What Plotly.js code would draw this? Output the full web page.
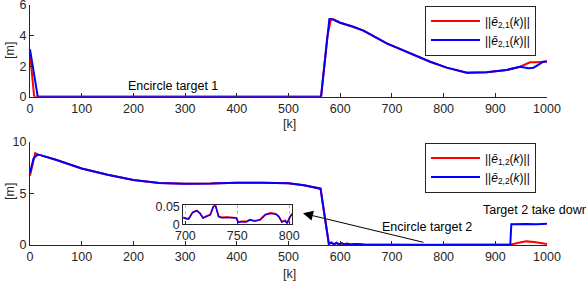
<!DOCTYPE html>
<html><head><meta charset="utf-8">
<script src="https://cdn.plot.ly/plotly-3.0.1.min.js"></script>
<style>html,body{margin:0;padding:0;background:#fff;}#plot{width:586px;height:282px;}</style>
</head><body><div id="plot"></div>
<script>
// ---- Top panel: ||e_{2,1}(k)|| (both legend entries labelled the same in the original)
const kTopRed  = [0, 8, 560, 563, 575, 582, 588, 595, 600, 625, 645, 690, 735, 774, 806, 845, 883, 922, 948, 958, 967, 980, 993, 1000];
const topRed   = [2.84, 0, 0, 0, 3.9, 5.08, 5.05, 4.9, 4.84, 4.58, 4.32, 3.49, 2.84, 2.29, 1.9, 1.57, 1.6, 1.75, 1.96, 2.12, 2.25, 2.25, 2.29, 2.3];
const kTopBlue = [0, 15, 560, 563, 579, 586, 592, 600, 625, 645, 690, 735, 774, 806, 845, 883, 922, 948, 956, 964, 974, 985, 993, 1000];
const topBlue  = [3.1, 0, 0, 0, 5.08, 5.06, 4.95, 4.84, 4.58, 4.32, 3.49, 2.84, 2.29, 1.9, 1.57, 1.6, 1.75, 1.96, 1.92, 1.86, 1.9, 2.12, 2.29, 2.3];

// ---- Bottom panel: ||e_{1,2}(k)|| (red) and ||e_{2,2}(k)|| (blue)
const kMid  = [20, 50, 100, 150, 200, 250, 300, 350, 400, 450, 500, 530, 562, 578, 583, 588, 593, 598, 603, 608, 613, 620, 630, 645, 660, 680,
               698, 703, 707, 711, 714, 717, 720, 724, 727, 729, 732, 735, 740, 746, 749, 751, 754, 759, 762, 767, 772, 777, 782, 787, 790, 793, 796, 798, 801, 803,
               820, 850, 880, 910, 929];
const vMidBlue = [8.7, 8.25, 7.4, 6.8, 6.3, 6.0, 5.93, 5.95, 6.03, 6.03, 5.97, 5.78, 5.45, 0.1, 0.25, 0.06, 0.22, 0.05, 0.18, 0.06, 0.15, 0.05, 0.1, 0.04, 0.06, 0.03,
               0.017, 0.012, 0.030, 0.035, 0.028, 0.015, 0.019, 0.024, 0.046, 0.049, 0.019, 0.016, 0.017, 0.015, 0.015, 0.003, 0.005, 0.005, 0.010, 0.007, 0.010, 0.024, 0.028, 0.026, 0.019, 0.004, 0.008, 0.001, 0.019, 0.026,
               0.03, 0.02, 0.04, 0.02, 0.02];
const vMidRed  = [8.7, 8.25, 7.4, 6.8, 6.3, 6.0, 5.93, 5.95, 6.03, 6.03, 5.97, 5.78, 5.45, 0.15, 0.2, 0.08, 0.18, 0.06, 0.15, 0.07, 0.12, 0.06, 0.09, 0.05, 0.05, 0.03,
               0.018, 0.013, 0.031, 0.036, 0.029, 0.016, 0.020, 0.025, 0.047, 0.050, 0.020, 0.017, 0.018, 0.016, 0.016, 0.004, 0.006, 0.006, 0.011, 0.008, 0.011, 0.025, 0.029, 0.027, 0.020, 0.005, 0.009, 0.002, 0.020, 0.027,
               0.03, 0.02, 0.04, 0.02, 0.02];
const kBotRedStart  = [0, 10, 15];
const botRedStart   = [6.7, 8.9, 8.75];
const kBotRedEnd    = [945, 960, 975, 990, 1000];
const botRedEnd     = [0.22, 0.35, 0.3, 0.15, 0.1];
const kBotBlueStart = [0, 7, 15];
const botBlueStart  = [7.0, 8.4, 8.75];
const kBotBlueEnd   = [931, 940, 960, 980, 1000];
const botBlueEnd    = [2.0, 2.02, 2.03, 2.02, 2.05];

const kBotRed  = kBotRedStart.concat(kMid, kBotRedEnd);
const botRed   = botRedStart.concat(vMidRed, botRedEnd);
const kBotBlue = kBotBlueStart.concat(kMid, kBotBlueEnd);
const botBlue  = botBlueStart.concat(vMidBlue, botBlueEnd);

const labTop   = '||<i>ē</i><sub>2,1</sub>(<i>k</i>)||';
const labBot1  = '||<i>ē</i><sub>1,2</sub>(<i>k</i>)||';
const labBot2  = '||<i>ē</i><sub>2,2</sub>(<i>k</i>)||';

const RED = '#ff0000', BLUE = '#0000ff';
const W = 586, H = 282;
const px = v => v / W, py = v => 1 - v / H;

const traces = [
  {x: kTopRed, y: topRed, xaxis: 'x', yaxis: 'y', mode: 'lines', line: {color: RED, width: 2}, name: labTop, legend: 'legend'},
  {x: kTopBlue, y: topBlue, xaxis: 'x', yaxis: 'y', mode: 'lines', line: {color: BLUE, width: 2}, name: labTop, legend: 'legend'},
  {x: kBotRed, y: botRed, xaxis: 'x2', yaxis: 'y2', mode: 'lines', line: {color: RED, width: 2}, name: labBot1, legend: 'legend2'},
  {x: kBotBlue, y: botBlue, xaxis: 'x2', yaxis: 'y2', mode: 'lines', line: {color: BLUE, width: 2}, name: labBot2, legend: 'legend2'},
  {x: kBotRed, y: botRed, xaxis: 'x3', yaxis: 'y3', mode: 'lines', line: {color: RED, width: 1.8}, showlegend: false},
  {x: kBotBlue, y: botBlue, xaxis: 'x3', yaxis: 'y3', mode: 'lines', line: {color: BLUE, width: 1.3}, showlegend: false}
];

const FONT = 'Liberation Sans, Arial, sans-serif';
const axBase = {
  showline: true, linecolor: '#262626', linewidth: 1, ticks: 'inside', ticklen: 4, tickcolor: '#262626',
  tickfont: {family: FONT, size: 12.5, color: '#262626'}, showgrid: false, zeroline: false, fixedrange: true,
  ticklabeloverflow: 'allow'
};
const yBase = Object.assign({}, axBase, {ticklabelshift: 2.5});

const ann = (x, y, text, extra) => Object.assign({xref: 'paper', yref: 'paper', x: px(x), y: py(y), xanchor: 'center', yanchor: 'middle',
  text: text, showarrow: false, font: {family: FONT, size: 12.5, color: '#000'}}, extra || {});

const legBase = {xanchor: 'left', yanchor: 'top', bgcolor: '#fff', bordercolor: '#262626', borderwidth: 1,
                 font: {family: FONT, size: 12, color: '#000'}, tracegroupgap: 0, itemwidth: 49};

const layout = {
  width: W, height: H, margin: {l: 0, r: 0, t: 0, b: 0},
  paper_bgcolor: '#fff', plot_bgcolor: 'rgba(0,0,0,0)',
  font: {family: FONT, size: 12, color: '#000'},
  xaxis:  Object.assign({}, axBase, {domain: [px(30), px(547)], range: [0, 1000], tickvals: [0,100,200,300,400,500,600,700,800,900,1000], anchor: 'y'}),
  yaxis:  Object.assign({}, yBase, {domain: [py(96.7), py(5)], range: [0, 6], tickvals: [0,2,4,6], anchor: 'x'}),
  xaxis2: Object.assign({}, axBase, {domain: [px(30), px(547)], range: [0, 1000], tickvals: [0,100,200,300,400,500,600,700,800,900,1000], anchor: 'y2'}),
  yaxis2: Object.assign({}, yBase, {domain: [py(245), py(141.7)], range: [0, 10], tickvals: [0,5,10], anchor: 'x2'}),
  xaxis3: Object.assign({}, axBase, {domain: [px(183.3), px(292.3)], range: [698, 803], tickvals: [700,750,800], mirror: true,
           showgrid: true, gridcolor: '#bbbbbb', griddash: 'dot', gridwidth: 1, anchor: 'y3', ticklen: 3}),
  yaxis3: Object.assign({}, yBase, {domain: [py(223.7), py(205.3)], range: [0, 0.05], tickvals: [0, 0.05], ticktext: ['0', '0.05'], mirror: true, anchor: 'x3', ticklen: 3, ticklabelshift: 1}),
  legend:  Object.assign({}, legBase, {x: px(425), y: py(5.5)}),
  legend2: Object.assign({}, legBase, {x: px(425), y: py(142.5)}),
  showlegend: true,
  annotations: [
    ann(173, 86, 'Encircle target 1'),
    ann(427, 227, 'Encircle target 2'),
    ann(480.5, 210, 'Target 2 take down', {xanchor: 'left'}),
    ann(10, 51, '[m]', {textangle: -90, font: {family: FONT, size: 12.5, color: '#262626'}}),
    ann(10, 192, '[m]', {textangle: -90, font: {family: FONT, size: 12.5, color: '#262626'}}),
    ann(289, 124, '[k]', {font: {family: FONT, size: 12.5, color: '#262626'}}),
    ann(289, 274, '[k]', {font: {family: FONT, size: 12.5, color: '#262626'}}),
    {xref: 'paper', yref: 'paper', x: px(303), y: py(213.3), text: '', showarrow: true, ax: 122, ay: 29.4,
     arrowhead: 2, arrowsize: 2, arrowwidth: 1, arrowcolor: '#000', standoff: 0, startstandoff: 0}
  ]
};

Plotly.newPlot('plot', traces, layout, {staticPlot: true, displayModeBar: false});
</script>
</body></html>
